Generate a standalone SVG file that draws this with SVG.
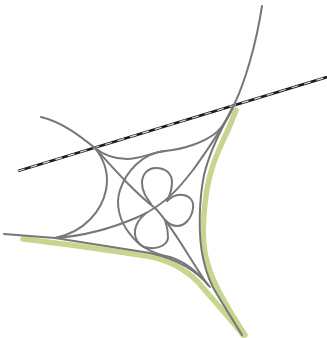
<svg xmlns="http://www.w3.org/2000/svg" width="327" height="338" viewBox="0 0 327 338">
<style>
.g{fill:none;stroke:#77777a;stroke-width:2;stroke-linecap:round;stroke-linejoin:round}
.v{fill:none;stroke:#c6d68e;stroke-width:5.5;stroke-linecap:round;stroke-linejoin:round}
</style>
<rect width="327" height="338" fill="#fff"/>
<g id="verge">
<path class="v" d="M23 239C60 243 100 249 147 256C170 260 186 270 198 282C213 300 230 318 243 335"/>
<path class="v" d="M236 110C230 127 224 138 218 152C210 170 207 185 205 203C202 228 203 250 208 265C212 280 222 300 245 335"/>
</g>
<g id="rail">
<path d="M18 171L327 77" fill="none" stroke="#1c1c1c" stroke-width="2.8"/>
<path d="M18 171L327 77" fill="none" stroke="#dcdcdc" stroke-width="1.2" stroke-dasharray="7 6"/>
</g>
<g id="roads">
<path class="g" d="M262 6C256 45 245 82 234 105C222 128 210 150 204 175C199 200 198 235 203 258C206 272 210 284 218 296L242 335"/>
<path class="g" d="M41 117C62 122 80 136 95 148C115 170 135 193 155 208C172 225 192 263 208 285"/>
<path class="g" d="M95 148C106 162 109 175 106 190C102 210 85 232 55 238"/>
<path class="g" d="M95 148C105 156 116 159 127 159C140 159 150 153 165 151C185 149 205 142 217 132C224 125 230 115 234 105"/>
<path class="g" d="M4 234L55 238C85 243 120 248 150 253C172 258 195 268 210 287"/>
<path class="g" d="M55 238C85 236 115 227 138 217C165 205 180 187 193 170C206 152 222 130 234 105"/>
<path class="g" d="M165 151C142 153 126 172 120 190C115 205 120 222 130 234C140 248 155 254 170 257C185 262 198 272 209 286"/>
<path class="g" d="M151 204C146 197 142 191 142 183C142 174 148 168 156 168C166 168 172 174 172 182C172 190 170 195 167 201"/>
<path class="g" d="M167 201C172 196 178 194 183 195C190 196 194 201 193 208C192 218 185 226 177 226C173 226 169 224 165 220"/>
<path class="g" d="M146 213C140 218 136 224 135 230C134 240 140 248 150 248C160 249 168 244 168 237C168 232 167 226 165 220"/>
</g>
</svg>
